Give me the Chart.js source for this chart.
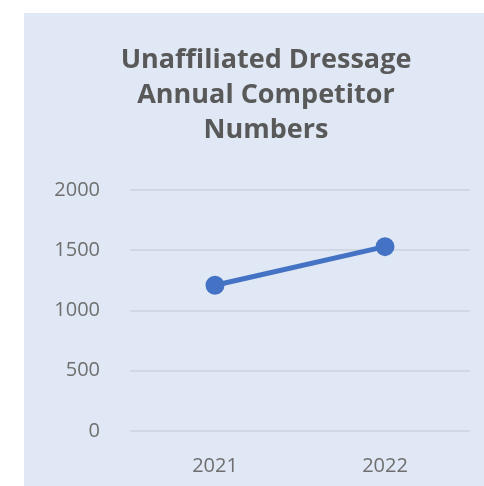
<!DOCTYPE html>
<html>
<head>
<meta charset="utf-8">
<script src="https://cdn.jsdelivr.net/npm/chart.js@4"></script>
<style>
    html, body { margin: 0; padding: 0; background: #ffffff; overflow: hidden; }
    #painel {
        position: absolute;
        left: 24px;
        top: 13px;
        width: 460px;
        height: 473px;
        background: #dfe8f4;
    }
</style>
</head>
<body>
<div id="painel"><canvas id="grafico" width="460" height="473"></canvas></div>
<script>
// dados do gráfico
const anos = ["2021", "2022"];
const competidores = [1210, 1530];
const marcasY = [0, 500, 1000, 1500, 2000];
const tituloLinhas = ["Unaffiliated Dressage", "Annual Competitor", "Numbers"];

document.addEventListener("DOMContentLoaded", function () {
    const ctx = document.getElementById("grafico").getContext("2d");

    // título desenhado à mão para poder ficar um pouco à direita do centro
    const pluginTitulo = {
        id: "tituloCentrado",
        afterDraw(chart) {
            const c = chart.ctx;
            c.save();
            c.fillStyle = "#595959";
            c.font = "bold 27px 'Open Sans', sans-serif";
            c.textAlign = "center";
            c.textBaseline = "middle";
            tituloLinhas.forEach((linha, i) => {
                c.fillText(linha, 242, 47 + i * 35);
            });
            c.restore();
        },
    };

    new Chart(ctx, {
        type: "line",
        data: {
            labels: anos,
            datasets: [
                {
                    label: "Competitors",
                    data: competidores,
                    borderColor: "#4472c4",
                    backgroundColor: "#4472c4",
                    borderWidth: 5,
                    pointRadius: 7,
                    pointHoverRadius: 7,
                    tension: 0,
                },
            ],
        },
        options: {
            responsive: false,
            animation: false,
            layout: {
                padding: { left: 20, right: 14, top: 177, bottom: -7 },
            },
            plugins: {
                legend: { display: false },
                tooltip: { enabled: false },
                title: { display: false },
            },
            scales: {
                x: {
                    offset: true,
                    grid: { display: false },
                    border: { display: false },
                    ticks: {
                        color: "#6f6f6f",
                        font: { family: "'Open Sans', sans-serif", size: 20 },
                        padding: 15,
                    },
                },
                y: {
                    min: 0,
                    max: 2000,
                    afterBuildTicks: (escala) => {
                        escala.ticks = marcasY.map((v) => ({ value: v }));
                    },
                    afterFit: (escala) => {
                        escala.width = 86;
                    },
                    grid: {
                        color: "#cfd8e3",
                        lineWidth: 2,
                        drawTicks: false,
                    },
                    border: { display: false },
                    ticks: {
                        color: "#6f6f6f",
                        font: { family: "'Open Sans', sans-serif", size: 20 },
                        padding: 30,
                        callback: (valor) => String(valor),
                    },
                },
            },
        },
        plugins: [pluginTitulo],
    });
});
</script>
</body>
</html>
